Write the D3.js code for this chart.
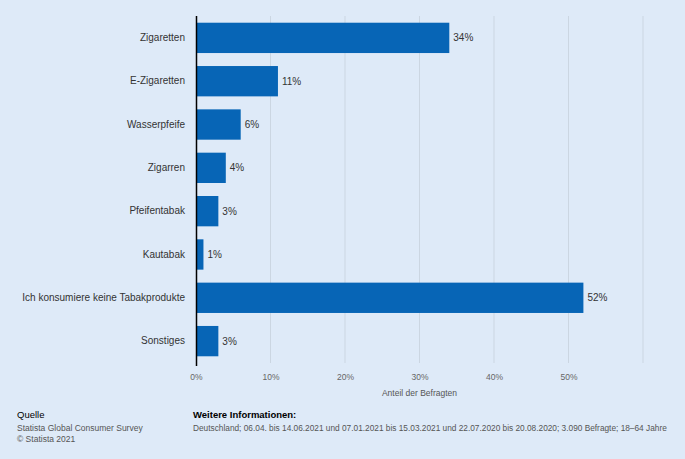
<!DOCTYPE html>
<html>
<head>
<meta charset="utf-8">
<script src="https://cdn.jsdelivr.net/npm/d3@7"></script>
<style>
  body { margin: 0; background: #deeaf8; }
  svg { display: block; font-family: "Liberation Sans", Arial, sans-serif; }
</style>
</head>
<body>
<div id="chart"></div>
<script>
// data
var categories = ['Zigaretten', 'E-Zigaretten', 'Wasserpfeife', 'Zigarren', 'Pfeifentabak', 'Kautabak', 'Ich konsumiere keine Tabakprodukte', 'Sonstiges'];
var values = [34, 11, 6, 4, 3, 1, 52, 3];
var x_ticks = [0, 10, 20, 30, 40, 50];

var chart_width = 685;
var chart_height = 459;
var plot_left = 196, plot_right = 643, plot_top = 16, plot_bottom = 363;

var svg = d3.select('#chart')
  .append('svg')
  .attr('width', chart_width)
  .attr('height', chart_height);

svg.append('rect')
  .attr('width', chart_width)
  .attr('height', chart_height)
  .attr('fill', '#deeaf8');

// scales
var x_scale = d3.scaleLinear()
  .domain([0, 60])
  .range([plot_left, plot_right]);

var y_scale = d3.scaleBand()
  .domain(categories)
  .range([plot_top, plot_bottom])
  .paddingInner(0.3)
  .paddingOuter(0.155);

// gridlines
svg.selectAll('line.grid')
  .data(x_ticks.slice(1).concat([60]))
  .enter()
  .append('line')
  .attr('class', 'grid')
  .attr('x1', (d) => x_scale(d))
  .attr('x2', (d) => x_scale(d))
  .attr('y1', plot_top)
  .attr('y2', plot_bottom)
  .attr('stroke', '#cbd6e2')
  .attr('stroke-width', 1);

// bars
svg.selectAll('rect.bar')
  .data(values)
  .enter()
  .append('rect')
  .attr('class', 'bar')
  .attr('x', x_scale(0))
  .attr('y', (d, i) => y_scale(categories[i]))
  .attr('width', (d) => x_scale(d) - x_scale(0))
  .attr('height', y_scale.bandwidth())
  .attr('fill', '#0765b6');

// value labels
svg.selectAll('text.value')
  .data(values)
  .enter()
  .append('text')
  .attr('class', 'value')
  .text((d) => d + '%')
  .attr('x', (d) => x_scale(d) + 4)
  .attr('y', (d, i) => y_scale(categories[i]) + y_scale.bandwidth() / 2)
  .attr('dy', '0.35em')
  .attr('font-size', 10)
  .attr('fill', '#333');

// y axis
var y_axis = d3.axisLeft(y_scale).tickSize(0).tickPadding(11);
var gy = svg.append('g')
  .attr('transform', 'translate(' + plot_left + ',0)')
  .call(y_axis);
gy.select('.domain').remove();
gy.selectAll('text').attr('font-size', 10).attr('fill', '#333');

svg.append('line')
  .attr('x1', plot_left + 0.5)
  .attr('x2', plot_left + 0.5)
  .attr('y1', plot_top)
  .attr('y2', plot_bottom + 3)
  .attr('stroke', '#000')
  .attr('stroke-width', 1.5);

// x axis
var x_axis = d3.axisBottom(x_scale)
  .tickValues(x_ticks)
  .tickFormat((d) => d + '%')
  .tickSize(0)
  .tickPadding(11);
var gx = svg.append('g')
  .attr('transform', 'translate(0,' + plot_bottom + ')')
  .call(x_axis);
gx.select('.domain').remove();
gx.selectAll('text').attr('font-size', 8.5).attr('fill', '#666');

svg.append('text')
  .text('Anteil der Befragten')
  .attr('x', (plot_left + plot_right) / 2)
  .attr('y', 396)
  .attr('text-anchor', 'middle')
  .attr('font-size', 8.5)
  .attr('fill', '#555');

// footer
svg.append('text').text('Quelle')
  .attr('x', 17).attr('y', 418)
  .attr('font-size', 9.5).attr('fill', '#000');
svg.append('text').text('Statista Global Consumer Survey')
  .attr('x', 17).attr('y', 431)
  .attr('font-size', 8.5).attr('fill', '#555');
svg.append('text').text('\u00a9 Statista 2021')
  .attr('x', 17).attr('y', 442)
  .attr('font-size', 8.5).attr('fill', '#555');
svg.append('text').text('Weitere Informationen:')
  .attr('x', 193).attr('y', 418)
  .attr('font-size', 9.5).attr('font-weight', 'bold').attr('fill', '#000');
svg.append('text').text('Deutschland; 06.04. bis 14.06.2021 und 07.01.2021 bis 15.03.2021 und 22.07.2020 bis 20.08.2020; 3.090 Befragte; 18\u201364 Jahre')
  .attr('x', 193).attr('y', 431)
  .attr('font-size', 8.3).attr('fill', '#555');
</script>
</body>
</html>
